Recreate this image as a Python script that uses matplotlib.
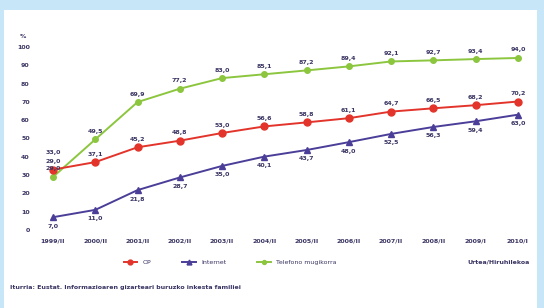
import matplotlib
matplotlib.use("Agg")
from matplotlib import pyplot as plt
from matplotlib.patches import Rectangle

# Data
periods = ["1999/II", "2000/II", "2001/II", "2002/II", "2003/II", "2004/II",
           "2005/II", "2006/II", "2007/II", "2008/II", "2009/I", "2010/I"]
op = [33.0, 37.1, 45.2, 48.8, 53.0, 56.6, 58.8, 61.1, 64.7, 66.5, 68.2, 70.2]
internet = [7.0, 11.0, 21.8, 28.7, 35.0, 40.1, 43.7, 48.0, 52.5, 56.3, 59.4, 63.0]
mobile = [29.0, 49.5, 69.9, 77.2, 83.0, 85.1, 87.2, 89.4, 92.1, 92.7, 93.4, 94.0]

red = "#e3342b"
navy = "#4a3e98"
green = "#8cc63f"
txt = "#3a3563"

fig = plt.figure(figsize=(5.44, 3.08), dpi=100)
fig.patch.set_facecolor("#c7e7f8")
# white panel behind everything
fig.patches.append(Rectangle((4 / 544, 0), (537 - 4) / 544, 1 - 10 / 308,
                             transform=fig.transFigure, facecolor="white",
                             edgecolor="none", zorder=-10))

ax = fig.add_axes([45 / 544, 1 - 230 / 308, (525 - 45) / 544, (230 - 47) / 308])
ax.set_facecolor("none")
x = list(range(len(periods)))

ax.plot(x, mobile, color=green, lw=1.4, marker="o", ms=4, label="Telefono mugikorra")
ax.plot(x, op, color=red, lw=1.4, marker="o", ms=5, label="OP")
ax.plot(x, internet, color=navy, lw=1.4, marker="^", ms=5, label="Internet")

def fmt(v):
    return f"{v:.1f}".replace(".", ",")

# value labels
for i in x:
    ax.text(i, mobile[i] + 3, fmt(mobile[i]), ha="center", va="bottom",
            fontsize=4.5, color=txt, fontweight="bold")
    if i == 0:
        ax.text(i, op[i] + 8, fmt(op[i]), ha="center", va="bottom",
                fontsize=4.5, color=txt, fontweight="bold")
        ax.text(i, op[i] + 3, fmt(mobile[i]), ha="center", va="bottom",
                fontsize=4.5, color=txt, fontweight="bold")
    else:
        ax.text(i, op[i] + 3, fmt(op[i]), ha="center", va="bottom",
                fontsize=4.5, color=txt, fontweight="bold")
    ax.text(i, internet[i] - 3.5, fmt(internet[i]), ha="center", va="top",
            fontsize=4.5, color=txt, fontweight="bold")

ax.set_ylim(0, 100)
ax.set_xlim(-0.19, len(periods) - 1 + 0.17)
ax.set_yticks(range(0, 101, 10))
ax.set_xticks(x)
ax.set_xticklabels(periods)
ax.tick_params(length=0, labelsize=4.5, colors=txt, pad=6)
ax.tick_params(axis="y", pad=11)
for lbl in ax.get_xticklabels() + ax.get_yticklabels():
    lbl.set_fontweight("bold")
for s in ax.spines.values():
    s.set_visible(False)
ax.text(-0.045, 1.05, "%", transform=ax.transAxes, fontsize=4.5, color=txt,
        fontweight="bold", ha="center")

handles, labels = ax.get_legend_handles_labels()
order = [1, 2, 0]
fig.legend([handles[k] for k in order], [labels[k] for k in order],
           loc="center", bbox_to_anchor=(230 / 544, 1 - 262 / 308), ncol=3,
           frameon=False, fontsize=4.5, labelcolor=txt, markerscale=0.7,
           handlelength=2.2, columnspacing=5)

fig.text(530 / 544, 1 - 262 / 308, "Urtea/Hiruhilekoa", fontsize=4.5, color=txt,
         ha="right", va="center", fontweight="bold")
fig.text(10 / 544, 1 - 287 / 308,
         "Iturria: Eustat. Informazioaren gizarteari buruzko inkesta familiei",
         fontsize=4.5, color=txt, ha="left", va="center", fontweight="bold")

plt.savefig("out.png", dpi=100, facecolor=fig.get_facecolor())
